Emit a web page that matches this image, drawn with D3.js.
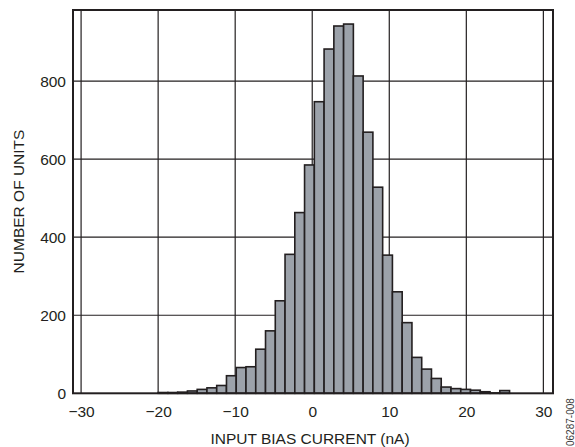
<!DOCTYPE html>
<html>
<head>
<meta charset="utf-8">
<script src="https://cdn.jsdelivr.net/npm/d3@7"></script>
<style>
  html, body { margin: 0; padding: 0; background: #ffffff; }
  svg { display: block; font-family: "Liberation Sans", Arial, Helvetica, sans-serif; }
</style>
</head>
<body>
<svg id="chart" width="575" height="447"></svg>
<script>
// Histogram of input bias current across units
const binStart = -20;      // nA, lower edge of first bin
const binWidth = 1.267;    // nA per bin
const unitCounts = [
  2, 2, 3, 6, 10, 14, 20, 45, 66, 68,
  113, 160, 237, 356, 463, 585, 747, 882, 941, 946,
  813, 669, 528, 354, 260, 181, 92, 62, 38, 16,
  12, 10, 8, 4, 1, 7
];
const xTicks = [-30, -20, -10, 0, 10, 20, 30];
const yTicks = [0, 200, 400, 600, 800];
const xTitle = "INPUT BIAS CURRENT (nA)";
const yTitle = "NUMBER OF UNITS";
const figureCode = "06287-008";

const bins = unitCounts.map((count, i) => ({
  x0: binStart + i * binWidth,
  x1: binStart + (i + 1) * binWidth,
  count
}));

const ink = "#231f20";
const frame = { left: 73, right: 553, top: 10, bottom: 393.3 };

const svg = d3.select("#chart");

const x = d3.scaleLinear().domain([-31.05, 31.25]).range([frame.left, frame.right]);
const y = d3.scaleLinear().domain([0, 982]).range([frame.bottom, frame.top]);

// grid
const grid = svg.append("g").attr("stroke", ink).attr("stroke-width", 1.2);
grid.selectAll("line.v").data(xTicks).join("line")
  .attr("class", "v")
  .attr("x1", d => x(d)).attr("x2", d => x(d))
  .attr("y1", frame.top).attr("y2", frame.bottom);
grid.selectAll("line.h").data(yTicks.filter(d => d > 0)).join("line")
  .attr("class", "h")
  .attr("x1", frame.left).attr("x2", frame.right)
  .attr("y1", d => y(d)).attr("y2", d => y(d));

// bars
svg.append("g").selectAll("rect").data(bins).join("rect")
  .attr("x", d => x(d.x0))
  .attr("width", d => x(d.x1) - x(d.x0))
  .attr("y", d => y(d.count))
  .attr("height", d => y(0) - y(d.count))
  .attr("fill", "#9ca2aa")
  .attr("stroke", ink)
  .attr("stroke-width", 1.6)
  .attr("stroke-linejoin", "miter");

// plot frame
svg.append("rect")
  .attr("x", frame.left).attr("y", frame.top)
  .attr("width", frame.right - frame.left)
  .attr("height", frame.bottom - frame.top)
  .attr("fill", "none")
  .attr("stroke", ink)
  .attr("stroke-width", 2);

// axes (labels only; grid carries the tick positions)
const xAxis = svg.append("g")
  .attr("transform", `translate(0,${frame.bottom})`)
  .call(d3.axisBottom(x).tickValues(xTicks).tickSize(0).tickPadding(12.7));
const yAxis = svg.append("g")
  .attr("transform", `translate(${frame.left},0)`)
  .call(d3.axisLeft(y).tickValues(yTicks).tickSize(0).tickPadding(7));

[xAxis, yAxis].forEach(g => {
  g.select(".domain").remove();
  g.selectAll("text")
    .attr("font-family", "'Liberation Sans', Arial, sans-serif")
    .attr("font-size", 15.5)
    .attr("fill", ink);
});

// axis titles
svg.append("text")
  .attr("x", 310).attr("y", 443.5)
  .attr("text-anchor", "middle")
  .attr("font-size", 15.5)
  .attr("fill", ink)
  .text(xTitle);

svg.append("text")
  .attr("transform", "translate(23.5,201.5) rotate(-90)")
  .attr("text-anchor", "middle")
  .attr("font-size", 15.5)
  .attr("fill", ink)
  .text(yTitle);

// figure code
svg.append("text")
  .attr("transform", "translate(574,446) rotate(-90)")
  .attr("text-anchor", "start")
  .attr("font-size", 10)
  .attr("fill", "#3a3a3a")
  .text(figureCode);
</script>
</body>
</html>
